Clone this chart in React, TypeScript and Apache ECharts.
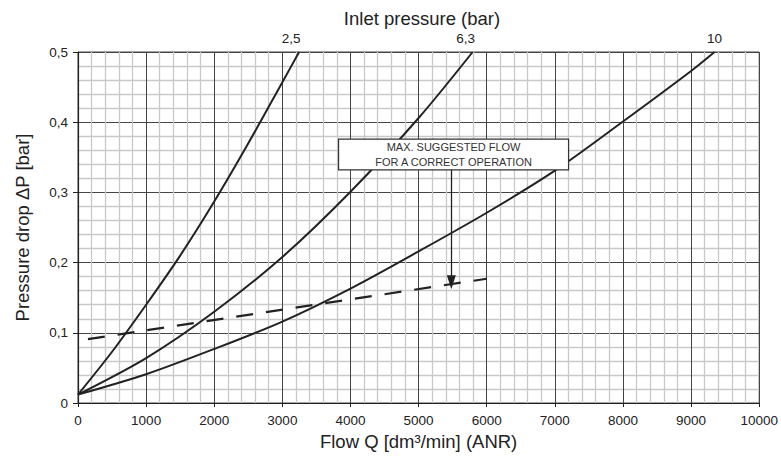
import React, { useEffect, useRef } from "react";
import * as echarts from "echarts";

const FONT = "'Liberation Sans', Arial, Helvetica, sans-serif";

// Flow Q [dm3/min] and pressure drop [bar]
const curve25Q = [0, 500, 1000, 1500, 2000, 2500, 3000, 3246];
const curve25P = [0.012, 0.073, 0.14, 0.21, 0.287, 0.37, 0.457, 0.5];

const curve63Q = [0, 1000, 2000, 3000, 4000, 5000, 5793];
const curve63P = [0.012, 0.064, 0.13, 0.208, 0.301, 0.406, 0.5];

const curve10Q = [0, 1000, 2000, 3000, 4000, 5000, 6000, 7000, 8000, 9000, 9344];
const curve10P = [0.012, 0.041, 0.077, 0.116, 0.163, 0.216, 0.271, 0.331, 0.401, 0.473, 0.5];

const maxFlowQ = [146, 6000];
const maxFlowP = [0.091, 0.177];

const pressureLabels = ["2,5", "6,3", "10"];
const noteLines = ["MAX. SUGGESTED FLOW", "FOR A CORRECT OPERATION"];
const noteBox = { q1: 3825, q2: 7201, p1: 0.376, p2: 0.332 };
const arrow = { q: 5480, pFrom: 0.332, pTo: 0.172 };

const zip = (q: number[], p: number[]) => q.map((v, i) => [v, p[i]]);

export default function App() {
  const ref = useRef<HTMLDivElement>(null);
  useEffect(() => {
    if (!ref.current) return;
    const chart = echarts.init(ref.current, undefined, { renderer: "svg" });
    const lineColor = "#222";
    const endLabel = (q: number, text: string, dx: number) => ({
      symbol: "circle",
      symbolSize: 0,
      silent: true,
      label: {
        show: true,
        position: "top",
        distance: 7,
        offset: [dx, 0],
        formatter: text,
        color: "#222",
        fontSize: 13.5,
        fontFamily: FONT,
      },
      data: [{ coord: [q, 0.5], name: text }],
    });
    chart.setOption({
      animation: false,
      textStyle: { fontFamily: FONT },
      title: {
        text: "Inlet pressure (bar)",
        left: 417,
        top: 4,
        textAlign: "center",
        textStyle: { fontSize: 18.5, fontWeight: "normal", color: "#222", fontFamily: FONT },
      },
      grid: {
        left: 78,
        right: 18,
        top: 52,
        bottom: 52,
        show: true,
        borderColor: "#444",
        borderWidth: 1,
        backgroundColor: "transparent",
      },
      xAxis: {
        type: "value",
        min: 0,
        max: 10000,
        interval: 1000,
        name: "Flow Q [dm³/min] (ANR)",
        nameLocation: "middle",
        nameGap: 29,
        nameTextStyle: { fontSize: 18.5, color: "#222", fontFamily: FONT },
        axisLine: { show: true, lineStyle: { color: "#222", width: 1.2 } },
        axisTick: { show: true, length: 4, lineStyle: { color: "#222" } },
        axisLabel: {
          margin: 10,
          fontSize: 13.5,
          color: "#222",
          fontFamily: FONT,
          formatter: (v: number) => String(v),
        },
        splitLine: { show: true, lineStyle: { color: "#444", width: 1 } },
        minorTick: { show: false, splitNumber: 5 },
        minorSplitLine: { show: true, lineStyle: { color: "#c9c9c9", width: 1.3 } },
      },
      yAxis: {
        type: "value",
        min: 0,
        max: 0.5,
        interval: 0.1,
        name: "Pressure drop ΔP [bar]",
        nameLocation: "middle",
        nameGap: 46,
        nameTextStyle: { fontSize: 18.5, color: "#222", fontFamily: FONT },
        axisLine: { show: true, lineStyle: { color: "#222", width: 1.2 } },
        axisTick: { show: true, length: 5, lineStyle: { color: "#222" } },
        axisLabel: {
          margin: 10,
          fontSize: 13.5,
          color: "#222",
          fontFamily: FONT,
          formatter: (v: number) => (v === 0 ? "0" : v.toFixed(1).replace(".", ",")),
        },
        splitLine: { show: true, lineStyle: { color: "#444", width: 1 } },
        minorTick: { show: false, splitNumber: 5 },
        minorSplitLine: { show: true, lineStyle: { color: "#c9c9c9", width: 1.3 } },
      },
      series: [
        {
          type: "line",
          z: 2,
          data: zip(curve25Q, curve25P),
          smooth: 0.3,
          showSymbol: false,
          lineStyle: { color: lineColor, width: 2 },
          markPoint: endLabel(curve25Q[curve25Q.length - 1], pressureLabels[0], -8),
        },
        {
          type: "line",
          z: 2,
          data: zip(curve63Q, curve63P),
          smooth: 0.3,
          showSymbol: false,
          lineStyle: { color: lineColor, width: 2 },
          markPoint: endLabel(curve63Q[curve63Q.length - 1], pressureLabels[1], -7),
        },
        {
          type: "line",
          z: 2,
          data: zip(curve10Q, curve10P),
          smooth: 0.3,
          showSymbol: false,
          lineStyle: { color: lineColor, width: 2 },
          markPoint: endLabel(curve10Q[curve10Q.length - 1], pressureLabels[2], 0),
        },
        {
          type: "line",
          data: zip(maxFlowQ, maxFlowP),
          showSymbol: false,
          z: 3,
          lineStyle: { color: lineColor, width: 2.2, type: [17, 13] },
          markLine: {
            silent: true,
            symbol: ["none", "triangle"],
            symbolSize: [9, 14],
            label: { show: false },
            lineStyle: { color: "#222", width: 1.3, type: "solid" },
            data: [[{ coord: [arrow.q, arrow.pFrom] }, { coord: [arrow.q, arrow.pTo] }]],
          },
        },
        {
          // Note box drawn through the chart's scales, above the curves
          type: "custom",
          zlevel: 1,
          z: 20,
          silent: true,
          clip: false,
          coordinateSystem: "cartesian2d",
          data: [[noteBox.q1, noteBox.p1, noteBox.q2, noteBox.p2]],
          renderItem: (_params: any, api: any) => {
            const a = api.coord([api.value(0), api.value(1)]);
            const b = api.coord([api.value(2), api.value(3)]);
            return {
              type: "group",
              children: [
                {
                  type: "rect",
                  z2: 10,
                  shape: { x: a[0], y: a[1], width: b[0] - a[0], height: b[1] - a[1] },
                  style: { fill: "#ffffff", stroke: "#333", lineWidth: 1.2, opacity: 1 },
                },
                {
                  type: "text",
                  z2: 11,
                  x: (a[0] + b[0]) / 2,
                  y: (a[1] + b[1]) / 2,
                  style: {
                    text: noteLines.join("\n"),
                    fill: "#333",
                    fontSize: 11,
                    fontFamily: FONT,
                    lineHeight: 15,
                    align: "center",
                    verticalAlign: "middle",
                  },
                },
              ],
            };
          },
        },
      ],
    });
    return () => chart.dispose();
  }, []);
  return (
    <div
      ref={ref}
      style={{ position: "absolute", left: 0, top: 0, width: 781, height: 456 }}
    />
  );
}
